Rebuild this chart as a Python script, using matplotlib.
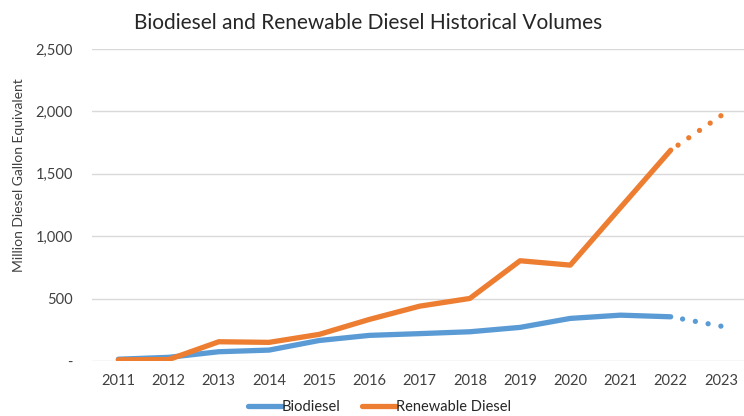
import matplotlib
matplotlib.use("Agg")
import matplotlib.pyplot as plt
from matplotlib.ticker import FuncFormatter

years = [2011, 2012, 2013, 2014, 2015, 2016, 2017, 2018, 2019, 2020, 2021, 2022, 2023]
biodiesel = [15, 30, 75, 88, 165, 206, 220, 235, 270, 342, 368, 355, 280]
renewable = [10, 12, 155, 150, 214, 334, 440, 502, 804, 769, 1230, 1690, 1966]
n_actual = 12  # 2011-2022 solid, 2022-2023 projected (dotted)

blue = "#5B9BD5"
orange = "#ED7D31"

plt.rcParams['font.family'] = ['Lato', 'DejaVu Sans']

fig = plt.figure(figsize=(7.44, 4.16), dpi=100)
ax = fig.add_axes([0.124, 0.132, 0.876, 0.750])

lw = 3.8
ax.plot(years[:n_actual], biodiesel[:n_actual], color=blue, lw=lw,
        solid_capstyle='round', solid_joinstyle='round', label='Biodiesel', zorder=3)
ax.plot(years[:n_actual], renewable[:n_actual], color=orange, lw=lw,
        solid_capstyle='round', solid_joinstyle='round', label='Renewable Diesel', zorder=4)
# projected segment drawn backwards so a dot lands exactly on 2023
ax.plot(years[n_actual - 1:][::-1], biodiesel[n_actual - 1:][::-1], color=blue, lw=lw,
        linestyle=(0, (0.01, 2.45)), dash_capstyle='round', zorder=3)
ax.plot(years[n_actual - 1:][::-1], renewable[n_actual - 1:][::-1], color=orange, lw=lw,
        linestyle=(0, (0.01, 2.45)), dash_capstyle='round', zorder=4)

ax.set_xlim(2010.48, 2023.46)
ax.set_ylim(0, 2500)
ax.set_xticks(years)
ax.set_xticklabels([str(y) for y in years])
ax.set_yticks([0, 500, 1000, 1500, 2000, 2500])
ax.yaxis.set_major_formatter(FuncFormatter(lambda v, p: "-" if v == 0 else f"{int(v):,}"))
ax.grid(axis='y', color='#D9D9D9', lw=1.0)
ax.set_axisbelow(True)
for s in ax.spines.values():
    s.set_visible(False)
ax.tick_params(axis='both', length=0, labelsize=10.5, labelcolor='#404040')
ax.tick_params(axis='y', pad=14)
ax.tick_params(axis='x', pad=9)

fig.text(0.025, 0.579, "Million Diesel Gallon Equivalent", rotation=90,
         ha='center', va='center', fontsize=10, color='#404040')

fig.text(0.495, 0.945, "Biodiesel and Renewable Diesel Historical Volumes",
         ha='center', va='center', fontsize=15, color='#262626')

handles, labels = ax.get_legend_handles_labels()
fig.legend(handles, labels, loc='center', bbox_to_anchor=(0.51, 0.022), ncol=2,
           frameon=False, fontsize=10.5, handlelength=2.3, handletextpad=0.0,
           columnspacing=1.5, labelcolor='#262626')

fig.savefig("out.png", dpi=100)
